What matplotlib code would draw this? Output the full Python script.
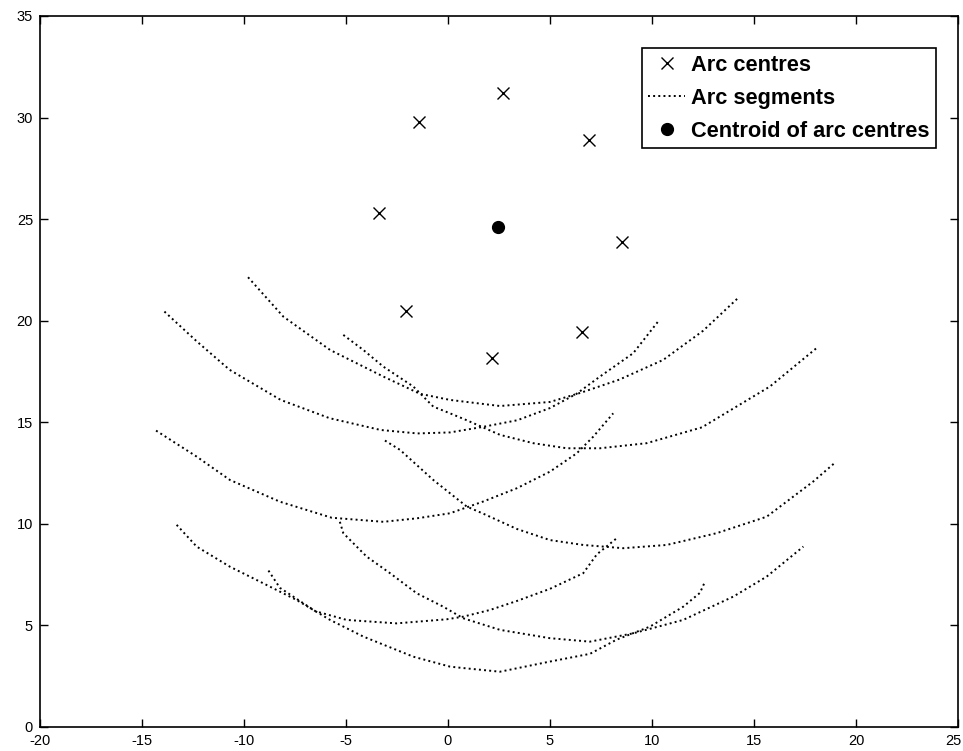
import matplotlib
matplotlib.use('Agg')
import matplotlib.pyplot as plt
from matplotlib.transforms import ScaledTranslation

# arc centres
centre_x = [2.71, -1.42, 6.90, -3.38, 8.54, -2.07, 6.58, 2.17]
centre_y = [31.2, 29.77, 28.9, 25.32, 23.85, 20.47, 19.45, 18.17]

# centroid of arc centres
centroid_x = [2.47]
centroid_y = [24.6]

# arc segments, traced point by point
arc_p_x = [-13.9, -12.3, -10.7, -8.2, -5.8, -3.3, -1.5, 0.1, 1.7, 3.4, 5.0, 6.3, 7.45, 9.08, 10.3]
arc_p_y = [20.45, 18.97, 17.58, 16.1, 15.2, 14.62, 14.45, 14.5, 14.77, 15.1, 15.7, 16.4, 17.25, 18.4, 19.96]

arc_q_x = [-9.8, -8.07, -5.78, -3.17, -1.37, 0.1, 2.55, 5.0, 6.5, 8.4, 10.55, 12.5, 14.2]
arc_q_y = [22.14, 20.2, 18.56, 17.25, 16.4, 16.1, 15.8, 16.0, 16.45, 17.1, 18.07, 19.5, 21.1]

arc_r_x = [-5.13, -4.15, -3.17, -1.7, -0.72, 0.1, 0.92, 2.55, 4.18, 5.82, 7.45, 9.74, 12.45, 15.78, 18.15]
arc_r_y = [19.3, 18.56, 17.74, 16.76, 15.77, 15.44, 15.1, 14.38, 13.97, 13.72, 13.72, 13.97, 14.75, 16.76, 18.72]

arc_s_x = [-14.31, -12.32, -10.69, -8.24, -5.7, -3.17, -1.53, 0.1, 1.73, 3.37, 5.0, 6.31, 7.12, 8.1]
arc_s_y = [14.59, 13.31, 12.16, 11.09, 10.3, 10.1, 10.27, 10.52, 11.1, 11.75, 12.57, 13.47, 14.29, 15.44]

arc_t_x = [-3.09, -2.35, -0.72, 0.92, 1.73, 3.37, 5.0, 6.63, 8.59, 10.72, 13.17, 15.62, 17.9, 18.97]
arc_t_y = [14.1, 13.64, 12.16, 10.85, 10.5, 9.75, 9.2, 8.96, 8.8, 8.96, 9.54, 10.35, 12.08, 13.01]

arc_u_x = [-5.3, -5.13, -3.99, -2.84, -1.53, -0.23, 0.75, 2.55, 5.0, 6.96, 9.08, 11.53, 13.99, 15.62, 17.42]
arc_u_y = [10.1, 9.54, 8.39, 7.57, 6.58, 5.92, 5.35, 4.78, 4.37, 4.2, 4.61, 5.27, 6.42, 7.4, 8.88]

arc_v_x = [-13.3, -12.32, -10.69, -9.05, -7.42, -5.78, -4.15, -1.7, 0.1, 0.75, 2.55, 5.0, 6.96, 8.27, 9.9, 11.53, 12.35, 12.6]
arc_v_y = [9.95, 8.88, 7.89, 7.07, 6.25, 5.27, 4.45, 3.46, 2.97, 2.9, 2.72, 3.22, 3.6, 4.3, 4.94, 5.92, 6.6, 7.16]

arc_w_x = [-8.8, -8.24, -6.5, -4.97, -2.52, -0.07, 0.75, 2.06, 3.37, 5.0, 6.63, 7.3, 8.27]
arc_w_y = [7.7, 6.85, 5.7, 5.27, 5.1, 5.3, 5.43, 5.76, 6.2, 6.8, 7.57, 8.5, 9.29]

arcs = [(arc_p_x, arc_p_y), (arc_q_x, arc_q_y), (arc_r_x, arc_r_y), (arc_s_x, arc_s_y),
        (arc_t_x, arc_t_y), (arc_u_x, arc_u_y), (arc_v_x, arc_v_y), (arc_w_x, arc_w_y)]

x_ticks = [-20, -15, -10, -5, 0, 5, 10, 15, 20, 25]
y_ticks = [0, 5, 10, 15, 20, 25, 30, 35]

plt.rcParams['font.family'] = ['Liberation Sans', 'DejaVu Sans']
plt.rcParams['axes.unicode_minus'] = False

fig = plt.figure(figsize=(9.63, 7.51), dpi=100)
ax = fig.add_axes([0.0415, 0.032, 0.9533, 0.9467])

ax.plot(centre_x, centre_y, 'kx', ms=9, mew=1.0, ls='none', label='Arc centres')
for i, (ax_x, ax_y) in enumerate(arcs):
    ax.plot(ax_x, ax_y, color='k', ls=':', lw=1.4,
            label='Arc segments' if i == 0 else None)
ax.plot(centroid_x, centroid_y, 'ko', ms=8.5, ls='none', label='Centroid of arc centres')

ax.set_xlim(-20, 25)
ax.set_ylim(0, 35)
ax.set_xticks(x_ticks)
ax.set_yticks(y_ticks)
ax.tick_params(direction='in', length=6, width=1, top=True, right=True,
               labelsize=10.5)
ax.tick_params(axis='x', pad=5)
ax.tick_params(axis='y', pad=5)
for sp in ax.spines.values():
    sp.set_linewidth(1.2)

# keep the last x label inside the picture
last = ax.get_xticklabels()[-1]
last.set_transform(last.get_transform() + ScaledTranslation(-0.05, 0, fig.dpi_scale_trans))

leg = ax.legend(loc='upper right', bbox_to_anchor=(0.976, 0.955), borderaxespad=0,
                fancybox=False, edgecolor='k', framealpha=1,
                prop={'weight': 'bold', 'size': 15.7},
                handlelength=1.7, handletextpad=0.25, borderpad=0.3, labelspacing=0.55)
leg.get_frame().set_linewidth(1.2)

plt.savefig('out.png', dpi=100)
